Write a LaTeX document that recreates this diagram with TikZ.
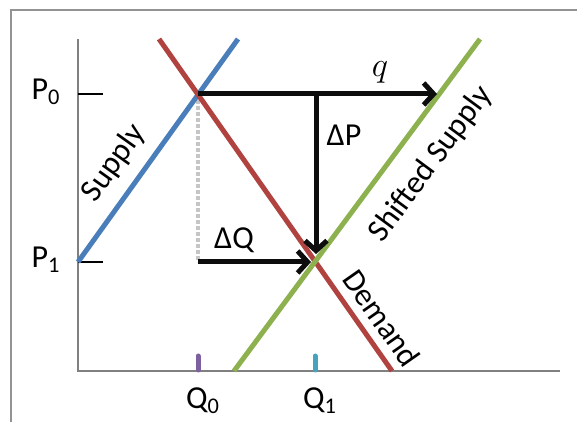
\documentclass[tikz,border=0pt]{standalone}
\usepackage{fontspec}
\setmainfont{Carlito}
\usetikzlibrary{arrows.meta}
\definecolor{supplyblue}{HTML}{4A7EBB}
\definecolor{demandred}{HTML}{B0433F}
\definecolor{shiftgreen}{HTML}{8DB14E}
\definecolor{qzeropurple}{HTML}{7D60A0}
\definecolor{qoneaqua}{HTML}{46A3BE}
\begin{document}
\begin{tikzpicture}[x=0.5pt, y=0.5pt, >={Straight Barb[length=5pt,width=11pt]},
  lbl/.style={font=\fontsize{16}{19}\selectfont, inner sep=1pt},
  curve/.style={line width=2.5pt},
  move/.style={->, line width=2.5pt, black!95}]
  \useasboundingbox (0,0) rectangle (577,422);
  % frame
  \draw[gray!85, line width=1pt] (11,0) -- (11,412) -- (577,412);
  % axes
  \coordinate (O) at (78,51);
  \coordinate (ytop) at (78,383);
  \coordinate (xend) at (560,51);
  \draw[gray, line width=1pt] (ytop) -- (O) -- (xend);
  % equilibria
  \coordinate (E0) at (198,328);
  \coordinate (E1) at (315,160);
  % price ticks
  \coordinate (P0a) at (78,328);  \coordinate (P0b) at (103,328);
  \coordinate (P1a) at (78,160);  \coordinate (P1b) at (103,160);
  \draw[line width=1pt] (P0a) -- (P0b);
  \draw[line width=1pt] (P1a) -- (P1b);
  \node[lbl, anchor=east] (P0) at (63,330) {P\textsubscript{0}};
  \node[lbl, anchor=east] (P1) at (63,162) {P\textsubscript{1}};
  % quantity ticks
  \coordinate (Q0a) at (198,52);  \coordinate (Q0b) at (198,66);
  \coordinate (Q1a) at (315,52);  \coordinate (Q1b) at (315,66);
  \draw[qzeropurple, line width=2.5pt, line cap=round] (Q0a) -- (Q0b);
  \draw[qoneaqua, line width=2.5pt, line cap=round] (Q1a) -- (Q1b);
  \node[lbl] (Q0) at (203,21) {Q\textsubscript{0}};
  \node[lbl] (Q1) at (320,21) {Q\textsubscript{1}};
  % dotted guide from E0 down to P1 level
  \coordinate (G) at (198,160);
  \draw[gray!45, line width=2pt, densely dotted] (E0) -- (G);
  % curves
  \coordinate (S1) at (78,160);   \coordinate (S2) at (238,383);
  \coordinate (D1) at (159,383);  \coordinate (D2) at (392,51);
  \coordinate (T1) at (234,51);   \coordinate (T2) at (480,383);
  \draw[curve, supplyblue] (S1) -- (S2);
  \draw[curve, demandred] (D1) -- (D2);
  \draw[curve, shiftgreen] (T1) -- (T2);
  \node[lbl, rotate=54.5] (supply) at (114,259) {Supply};
  \node[lbl, rotate=53.5] (shifted) at (431,258) {Shifted Supply};
  \node[lbl, rotate=-55] (demand) at (382,104) {Demand};
  % movements
  \coordinate (qend) at (437,328);
  \coordinate (dPtop) at (316,328);
  \coordinate (dPend) at (316,168);
  \coordinate (dQend) at (311,160);
  \draw[move] (E0) -- (qend);
  \draw[move] (dPtop) -- (dPend);
  \draw[move] (G) -- (dQend);
  \node[lbl, font=\fontsize{18}{20}\selectfont] (q) at (380,350) {$q$};
  \node[lbl] (dP) at (344,287) {ΔP};
  \node[lbl] (dQ) at (234,182) {ΔQ};
\end{tikzpicture}
\end{document}
